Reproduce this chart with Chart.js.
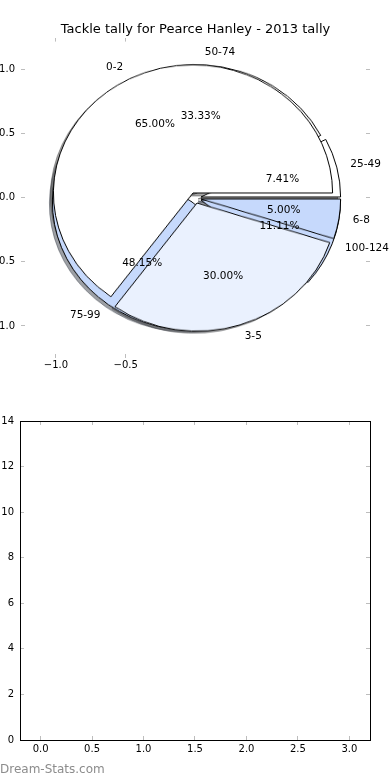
<!DOCTYPE html>
<html>
<head>
<meta charset="utf-8">
<title>Tackle tally for Pearce Hanley - 2013 tally</title>
<script src="https://cdn.jsdelivr.net/npm/chart.js@4.4.1/dist/chart.umd.min.js"></script>
<style>
  body { margin: 0; background: #fff; width: 390px; height: 780px; overflow: hidden; }
  #pieBox { position: relative; width: 390px; height: 380px; overflow: hidden; }
  #pieBox canvas { position: absolute; }
  #frame { left: 0; top: 0; }
  #barBox { position: relative; width: 390px; height: 400px; }
  #watermark { position: absolute; left: 0; top: 382px; font: 12px "DejaVu Sans", sans-serif; line-height: 14px; color: #8c8c8c; }
</style>
</head>
<body>
<div id="pieBox"><canvas id="frame" width="390" height="380"></canvas></div>
<div id="barBox">
  <canvas id="bars" width="390" height="400"></canvas>
  <div id="watermark">Dream-Stats.com</div>
</div>
<script>
// tackles per game, first pie (small counts)
const innerLabels = ["0-2", "3-5", "6-8"];
const innerValues = [13, 6, 1];
const innerColors = ["#ffffff", "#eaf1fe", "#c6d9fc"];

// second pie drawn under the first one
const outerLabels = ["25-49", "50-74", "75-99", "100-124"];
const outerValues = [2, 9, 13, 3];
const outerColors = ["#ffffff", "#ffffff", "#c6d9fc", "#c6d9fc"];

const pieXTicks = [-1.0, -0.5];
const pieYTicks = [-1.0, -0.5, 0.0, 0.5, 1.0];
const barXTicks = [0, 0.5, 1.0, 1.5, 2.0, 2.5, 3.0];
const barYTicks = [0, 2, 4, 6, 8, 10, 12, 14];

const EXPLODE = 0.04;
const SHADOW = 0.02;
const TICK_GREY = "#bdbdbd";
const SIZE = 300;

Chart.defaults.font.family = "DejaVu Sans";
Chart.defaults.color = "#000";

function fmt(v) {
  return (v < 0 ? "\u2212" : "") + Math.abs(v).toFixed(1);
}

function sum(arr) {
  return arr.reduce((a, b) => a + b, 0);
}

// axis with small inward grey ticks, like the old matplotlib look
function tickAxis(position, min, max, values, labelFmt, padding, size, border) {
  const horizontal = position === "top" || position === "bottom";
  return {
    type: "linear",
    position: position,
    min: min,
    max: max,
    afterBuildTicks: s => { s.ticks = values.map(v => ({ value: v })); },
    afterFit: s => { if (horizontal) s.height = size; else s.width = size; },
    grid: { drawOnChartArea: false, tickLength: -4, tickColor: TICK_GREY, lineWidth: 1 },
    border: { display: !!border, color: "#000", width: 1 },
    ticks: {
      display: !!labelFmt,
      padding: padding,
      font: { size: 10 },
      color: "#000",
      callback: labelFmt || (() => "")
    }
  };
}

// labels and percentages, placed like pie() does it
const pieLabels = {
  id: "pieLabels",
  afterDraw(chart) {
    const ctx = chart.ctx;
    const x = chart.scales.x;
    const y = chart.scales.y;
    ctx.save();
    ctx.font = "10.5px 'DejaVu Sans'";
    ctx.fillStyle = "#000";
    ctx.textBaseline = "middle";
    [[innerLabels, innerValues], [outerLabels, outerValues]].forEach(([labels, values]) => {
      const total = sum(values);
      let start = 0;
      values.forEach((v, i) => {
        const mid = 2 * Math.PI * (start + v / 2) / total;
        start += v;
        const ox = EXPLODE * Math.cos(mid);
        const oy = EXPLODE * Math.sin(mid);
        const lx = ox + 1.1 * Math.cos(mid);
        const ly = oy + 1.1 * Math.sin(mid);
        ctx.textAlign = lx > 0 ? "left" : "right";
        ctx.fillText(labels[i], x.getPixelForValue(lx), y.getPixelForValue(ly));
        ctx.textAlign = "center";
        ctx.fillText((100 * v / total).toFixed(2) + "%",
          x.getPixelForValue(ox + 0.6 * Math.cos(mid)),
          y.getPixelForValue(oy + 0.6 * Math.sin(mid)));
      });
    });
    ctx.restore();
  }
};

const frame = new Chart(document.getElementById("frame"), {
  type: "scatter",
  data: { datasets: [] },
  options: {
    responsive: false,
    animation: false,
    events: [],
    layout: { padding: { left: 0, right: 20, top: 0, bottom: 0 } },
    plugins: {
      legend: { display: false },
      tooltip: { enabled: false },
      title: {
        display: true,
        fullSize: false,
        text: "Tackle tally for Pearce Hanley - 2013 tally",
        color: "#000",
        font: { size: 13, weight: "normal" },
        padding: { top: 22, bottom: 0 }
      }
    },
    scales: {
      x: tickAxis("bottom", -1.25, 1.25, pieXTicks, fmt, 5, 22),
      x2: tickAxis("top", -1.25, 1.25, pieXTicks, null, 0, 0),
      y: tickAxis("left", -1.25, 1.25, pieYTicks, fmt, 10, 21),
      y2: tickAxis("right", -1.25, 1.25, pieYTicks, null, 0, 0)
    }
  },
  plugins: [pieLabels]
});

// pie geometry comes from the frame scales (axes are not equal, so it is an ellipse)
const box = document.getElementById("pieBox");
const fx = frame.scales.x;
const fy = frame.scales.y;
const cx0 = fx.getPixelForValue(0);
const cy0 = fy.getPixelForValue(0);
const rx = fx.getPixelForValue(1) - cx0;
const ry = cy0 - fy.getPixelForValue(1);

function shade(hex) {
  const n = parseInt(hex.slice(1), 16);
  const r = Math.round(0.3 * (n >> 16 & 255));
  const g = Math.round(0.3 * (n >> 8 & 255));
  const b = Math.round(0.3 * (n & 255));
  return "rgba(" + r + "," + g + "," + b + ",0.5)";
}

// one canvas per wedge so each one can be pulled out on its own
function addWedge(labels, values, colors, k, shadow) {
  const total = sum(values);
  const mid = 2 * Math.PI * (sum(values.slice(0, k)) + values[k] / 2) / total;
  let dx = EXPLODE * rx * Math.cos(mid);
  let dy = -EXPLODE * ry * Math.sin(mid);
  if (shadow) {
    dx -= SHADOW * rx;
    dy += SHADOW * ry;
  }
  const cv = document.createElement("canvas");
  cv.width = SIZE;
  cv.height = SIZE;
  cv.style.left = (cx0 - SIZE / 2 + dx) + "px";
  cv.style.top = (cy0 - SIZE / 2 + dy) + "px";
  // flip so wedges run counter-clockwise from 3 o'clock
  cv.style.transform = "scaleY(" + (-ry / rx) + ")";
  box.insertBefore(cv, frame.canvas);

  const fill = shadow ? shade(colors[k]) : colors[k];
  const edge = shadow ? fill : "#000";
  new Chart(cv, {
    type: "pie",
    data: {
      labels: labels,
      datasets: [{
        data: values,
        radius: rx,
        backgroundColor: values.map((v, i) => i === k ? fill : "rgba(0,0,0,0)"),
        borderColor: values.map((v, i) => i === k ? edge : "rgba(0,0,0,0)"),
        borderWidth: values.map((v, i) => i === k ? 1 : 0)
      }]
    },
    options: {
      responsive: false,
      animation: false,
      events: [],
      rotation: 90,
      layout: { padding: 0 },
      plugins: { legend: { display: false }, tooltip: { enabled: false } }
    }
  });
}

outerValues.forEach((v, k) => addWedge(outerLabels, outerValues, outerColors, k, true));
innerValues.forEach((v, k) => addWedge(innerLabels, innerValues, innerColors, k, true));
outerValues.forEach((v, k) => addWedge(outerLabels, outerValues, outerColors, k, false));
innerValues.forEach((v, k) => addWedge(innerLabels, innerValues, innerColors, k, false));

// empty second axes below the pie
new Chart(document.getElementById("bars"), {
  type: "scatter",
  data: { datasets: [] },
  options: {
    responsive: false,
    animation: false,
    events: [],
    layout: { padding: { left: 0, right: 20, top: 41, bottom: 0 } },
    plugins: { legend: { display: false }, tooltip: { enabled: false } },
    scales: {
      x: tickAxis("bottom", -0.2, 3.2, barXTicks, v => v.toFixed(1), 7, 40, true),
      x2: tickAxis("top", -0.2, 3.2, barXTicks, null, 0, 0, true),
      y: tickAxis("left", 0, 14, barYTicks, v => String(v), 10, 20, true),
      y2: tickAxis("right", 0, 14, barYTicks, null, 0, 0, true)
    }
  }
});
</script>
</body>
</html>
